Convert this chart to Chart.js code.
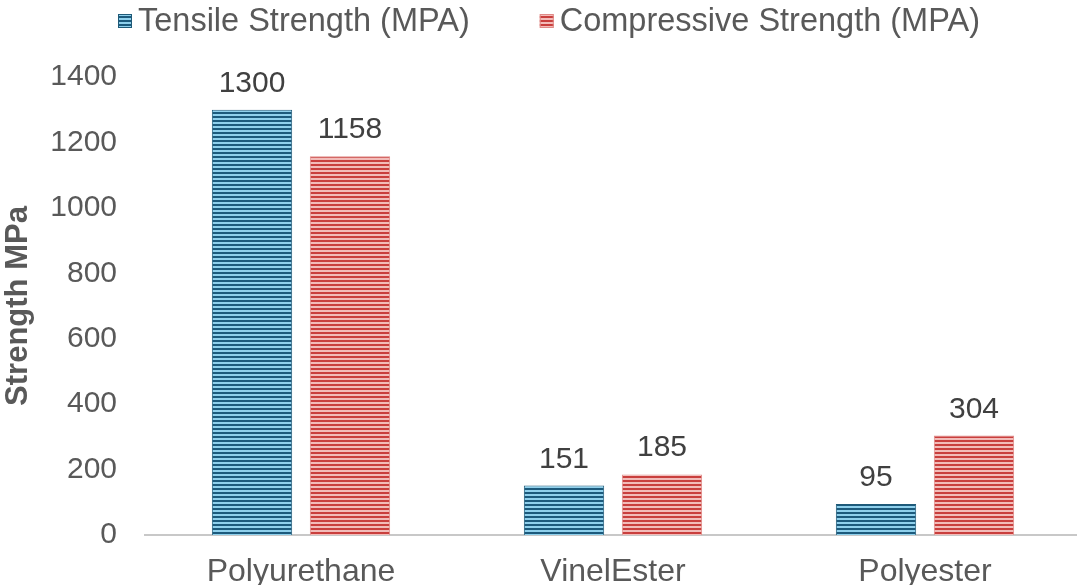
<!DOCTYPE html>
<html>
<head>
<meta charset="utf-8">
<script src="https://cdn.jsdelivr.net/npm/chart.js@4/dist/chart.umd.min.js"></script>
<style>
  html, body { margin: 0; padding: 0; background: #ffffff; }
  #wrap { width: 1077px; height: 585px; position: relative; }
</style>
</head>
<body>
<div id="wrap"><canvas id="c"></canvas></div>
<script>
const categories = ['Polyurethane', 'VinelEster', 'Polyester'];
const tensileStrength = [1300, 151, 95];
const compressiveStrength = [1158, 185, 304];
const seriesNames = ['Tensile Strength (MPA)', 'Compressive Strength (MPA)'];
const yTicks = [0, 200, 400, 600, 800, 1000, 1200, 1400];

// Horizontal stripe fill: alternating dark/light bands
function stripes(dark, light) {
  const p = document.createElement('canvas');
  p.width = 4; p.height = 4;
  const g = p.getContext('2d');
  g.fillStyle = light; g.fillRect(0, 0, 4, 4);
  g.fillStyle = dark; g.fillRect(0, 0, 4, 2);
  return g.createPattern(p, 'repeat');
}
const blueFill = stripes('#1c5a7c', '#8fd0ec');
const redFill = stripes('#c93f3d', '#f2bcb9');

const FONT = '"Liberation Sans", Arial, sans-serif';

// Let the category axis run slightly past the right canvas edge
const widenX = {
  id: 'widenX',
  afterLayout(chart) {
    const s = chart.scales.x;
    s.right += 4;
    s.width += 4;
    s.configure();
  }
};

// Value above each bar
const valueLabels = {
  id: 'valueLabels',
  afterDatasetsDraw(chart) {
    const ctx = chart.ctx;
    ctx.save();
    ctx.font = '30px ' + FONT;
    ctx.fillStyle = '#404040';
    ctx.textAlign = 'center';
    ctx.textBaseline = 'alphabetic';
    chart.data.datasets.forEach((ds, i) => {
      chart.getDatasetMeta(i).data.forEach((bar, j) => {
        ctx.fillText(String(ds.data[j]), bar.x, bar.y - 18);
      });
    });
    ctx.restore();
  }
};

// Compact legend row at the top: small striped square followed by the name
const topLegend = {
  id: 'topLegend',
  afterDraw(chart) {
    const ctx = chart.ctx;
    ctx.save();
    ctx.font = '32.5px ' + FONT;
    ctx.textBaseline = 'middle';
    ctx.textAlign = 'left';
    const box = 14, gap = 6, spacing = 70, y = 21;
    let x = 118;
    chart.data.datasets.forEach(ds => {
      ctx.fillStyle = ds.backgroundColor;
      ctx.fillRect(x, y - box / 2, box, box);
      ctx.strokeStyle = ds.borderColor;
      ctx.lineWidth = 1;
      ctx.strokeRect(x + 0.5, y - box / 2 + 0.5, box - 1, box - 1);
      ctx.fillStyle = '#595959';
      ctx.fillText(ds.label, x + box + gap, y + 1);
      x += box + gap + ctx.measureText(ds.label).width + spacing;
    });
    ctx.restore();
  }
};

new Chart(document.getElementById('c'), {
  type: 'bar',
  data: {
    labels: categories,
    datasets: [
      { label: seriesNames[0], data: tensileStrength, backgroundColor: blueFill,
        borderColor: '#1f5a78', borderWidth: 1 },
      { label: seriesNames[1], data: compressiveStrength, backgroundColor: redFill,
        borderColor: '#e08a87', borderWidth: 1 }
    ]
  },
  options: {
    responsive: true,
    maintainAspectRatio: false,
    animation: false,
    devicePixelRatio: 1,
    layout: { padding: { left: 0, right: 0, top: 77, bottom: 0 } },
    datasets: { bar: { categoryPercentage: 0.628, barPercentage: 0.82 } },
    plugins: {
      tooltip: { enabled: false },
      legend: { display: false }
    },
    scales: {
      x: {
        grid: { display: false, drawTicks: false },
        border: { display: true, color: '#c8c8c8', width: 2 },
        ticks: { font: { family: FONT, size: 32 }, color: '#595959', padding: 18 },
        afterFit(s) { s.height = 50; }
      },
      y: {
        min: 0, max: 1400,
        afterBuildTicks(s) { s.ticks = yTicks.map(v => ({ value: v })); },
        grid: { display: false, drawTicks: false },
        border: { display: false },
        ticks: {
          font: { family: FONT, size: 30 }, color: '#595959', padding: 28,
          callback: v => String(v)
        },
        title: {
          display: true,
          text: 'Strength MPa',
          font: { family: FONT, size: 31, weight: 'bold' },
          color: '#595959',
          padding: 0
        },
        afterFit(s) { s.width = 145; }
      }
    }
  },
  plugins: [widenX, valueLabels, topLegend]
});
</script>
</body>
</html>
